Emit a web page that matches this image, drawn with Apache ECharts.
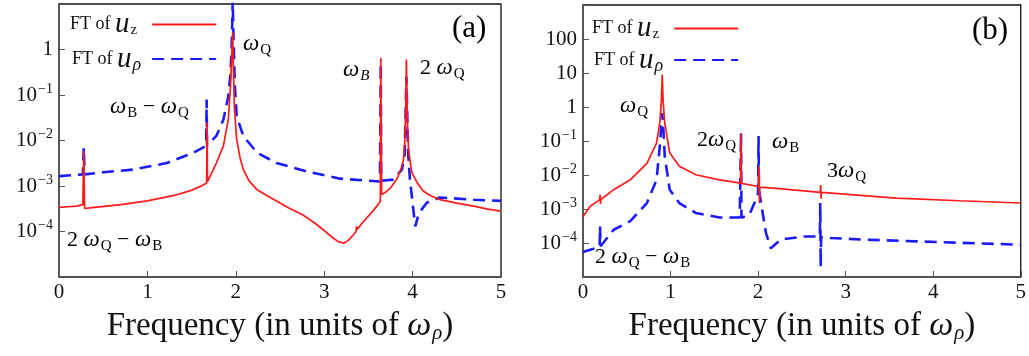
<!DOCTYPE html>
<html>
<head>
<meta charset="utf-8">
<script src="https://cdn.jsdelivr.net/npm/echarts@6/dist/echarts.min.js"></script>
<style>
  html, body { margin: 0; background: #fff; }
  #chart { width: 1029px; height: 356px; }
</style>
</head>
<body>
<div id="chart"></div>
<script>
// panel (a): [frequency, amplitude]
const uzA = [
  [0, 3.4e-4], [0.1, 3.5e-4], [0.2, 3.6e-4], [0.27, 3.9e-4], [0.28, 5.9e-3], [0.29, 3.2e-4],
  [0.4, 3.4e-4], [0.7, 3.9e-4], [1.0, 4.7e-4], [1.3, 6.2e-4], [1.48, 7.8e-4], [1.6, 9.8e-4],
  [1.67, 1.17e-3], [1.675, 2.5e-2], [1.68, 1.25e-3], [1.72, 1.8e-3], [1.78, 3.2e-3],
  [1.86, 7.6e-3], [1.915, 2.9e-2], [1.94, 0.155], [1.955, 0.8], [1.965, 2.4], [1.975, 0.25],
  [1.985, 0.05], [2.01, 1.05e-2], [2.05, 4e-3], [2.085, 2.3e-3], [2.15, 1.3e-3], [2.24, 8.3e-4],
  [2.35, 6.2e-4], [2.46, 4.7e-4], [2.6, 3.3e-4], [2.76, 2.3e-4], [2.9, 1.5e-4], [3.0, 1.05e-4],
  [3.1, 7.2e-5], [3.16, 6e-5], [3.22, 5.5e-5], [3.27, 6.3e-5], [3.33, 8.5e-5], [3.36, 1.0e-4],
  [3.365, 1.3e-4], [3.37, 1.1e-4], [3.45, 1.7e-4], [3.55, 2.8e-4], [3.61, 3.9e-4], [3.635, 4.6e-4],
  [3.64, 0.66], [3.65, 6.5e-4], [3.68, 7e-4], [3.75, 9e-4], [3.82, 1.4e-3], [3.87, 2.4e-3],
  [3.895, 3.6e-3], [3.91, 8e-3], [3.92, 3e-2], [3.93, 0.6], [3.94, 3e-2], [3.955, 6e-3],
  [3.99, 2.0e-3], [4.05, 1.2e-3], [4.12, 7.8e-4], [4.2, 6.2e-4], [4.31, 5e-4], [4.5, 4.2e-4],
  [4.69, 3.6e-4], [4.85, 3.1e-4], [5.0, 2.8e-4]
];
const urhoA = [
  [0, 1.65e-3], [0.27, 1.8e-3], [0.28, 7e-3], [0.29, 1.8e-3], [0.5, 2.0e-3], [0.84, 2.3e-3],
  [1.22, 3.2e-3], [1.52, 5.4e-3], [1.665, 7.6e-3], [1.67, 0.08], [1.675, 7.8e-3], [1.78, 1.26e-2],
  [1.86, 2.9e-2], [1.915, 9.3e-2], [1.94, 0.3], [1.955, 1.5], [1.965, 12], [1.975, 1.5],
  [1.99, 0.15], [2.01, 3.4e-2], [2.085, 1.26e-2], [2.24, 5.4e-3], [2.46, 3.2e-3], [2.8, 2.1e-3],
  [3.18, 1.45e-3], [3.63, 1.26e-3], [3.64, 0.5], [3.645, 1.3e-3], [3.78, 1.38e-3], [3.88, 2.3e-3],
  [3.91, 5e-3], [3.93, 0.25], [3.95, 5e-3], [3.97, 1.4e-3], [4.03, 1.3e-4], [4.07, 2.5e-4],
  [4.16, 4.3e-4], [4.31, 5.6e-4], [4.69, 5e-4], [5.0, 4.7e-4]
];

// panel (b)
const uzB = [
  [0, 6e-4], [0.083, 1.2e-3], [0.19, 1.85e-3], [0.195, 2.6e-3], [0.2, 1.4e-3], [0.205, 1.9e-3],
  [0.35, 3.7e-3], [0.54, 7.2e-3], [0.73, 2.2e-2], [0.84, 8.7e-2], [0.877, 0.34], [0.895, 1.5],
  [0.905, 9], [0.915, 1.5], [0.934, 0.34], [0.99, 4.5e-2], [1.10, 1.8e-2], [1.29, 1.02e-2],
  [1.56, 7.2e-3], [1.80, 5.8e-3], [1.805, 0.17], [1.81, 5.7e-3], [2.005, 4.6e-3], [2.01, 1.8e-2],
  [2.015, 1.5e-3], [2.02, 4.4e-3], [2.24, 4e-3], [2.71, 3.1e-3], [2.715, 5.1e-3], [2.72, 2e-3],
  [2.725, 3.1e-3], [3.58, 2.1e-3], [4.3, 1.75e-3], [5.0, 1.5e-3]
];
const urhoB = [
  [0, 5.4e-5], [0.1, 6.5e-5], [0.19, 7.9e-5], [0.195, 3.1e-4], [0.2, 8e-5], [0.35, 2.45e-4],
  [0.54, 4.4e-4], [0.73, 1.5e-3], [0.84, 7.2e-3], [0.877, 6.9e-2], [0.895, 0.3], [0.905, 0.66],
  [0.915, 0.3], [0.934, 3.5e-2], [0.99, 3.7e-3], [1.10, 1.5e-3], [1.29, 7.6e-4], [1.56, 5.6e-4],
  [1.79, 5.6e-4], [1.805, 0.17], [1.81, 5.5e-4], [1.85, 6e-4], [1.90, 6.8e-4], [1.975, 1.9e-3],
  [2.0, 3e-3], [2.005, 0.14], [2.01, 3.5e-3], [2.09, 1.95e-4], [2.145, 7e-5], [2.26, 1.26e-4],
  [2.52, 1.55e-4], [2.705, 1.55e-4], [2.71, 1.5e-3], [2.715, 2e-5], [2.72, 1.5e-4], [2.83, 1.4e-4],
  [3.2, 1.26e-4], [3.81, 1.12e-4], [5.0, 8.9e-5]
];

const xTicks = [0, 1, 2, 3, 4, 5];
const yLabelExpA = [-4, -3, -2, -1, 0];
const yLabelExpB = [-4, -3, -2, -1, 0, 1, 2];

const SERIF = "'Liberation Serif'";
const RED = '#ff1a1a';
const BLUE = '#1a1aff';

const chart = echarts.init(document.getElementById('chart'));

// rich text styles (fontFamily + fontSize + fontStyle)
const tx = (size, extra) => Object.assign({ fontFamily: SERIF, fontSize: size, fontWeight: 'normal', color: '#111' }, extra);
const richText = {
  w: tx(23, { fontStyle: 'italic', lineHeight: 28 }),
  n: tx(22, { lineHeight: 28 }),
  q: tx(15, { lineHeight: 15, padding: [12, 0, 0, 1] }),
  bi: tx(15, { fontStyle: 'italic', lineHeight: 15, padding: [12, 0, 0, 1] }),
  big: tx(31, { lineHeight: 34 })
};

const yFormatter = (shown) => (v) => {
  const e = Math.round(Math.log10(v));
  if (shown.indexOf(e) < 0) return '';
  if (e >= 0) return '{b|' + Math.pow(10, e) + '}';
  return '{b|10}{s|\u2212' + (-e) + '}';
};

const yAxisBase = (min, max, shown) => ({
  type: 'log', logBase: 10, min: min, max: max,
  axisLine: { show: true, lineStyle: { color: '#555', width: 1.5 } },
  axisTick: { inside: true, length: 6, lineStyle: { color: '#555' } },
  splitLine: { show: false },
  axisLabel: Object.assign(tx(21), {
    margin: 6, formatter: yFormatter(shown),
    rich: {
      b: tx(21, { lineHeight: 24 }),
      s: tx(14, { lineHeight: 14, padding: [0, 0, 12, 1] })
    }
  })
});

const xAxisBase = (gi) => ({
  type: 'value', gridIndex: gi, min: xTicks[0], max: xTicks[xTicks.length - 1], interval: 1,
  axisLine: { show: true, lineStyle: { color: '#555', width: 1.5 } },
  axisTick: { inside: true, length: 6, lineStyle: { color: '#555' } },
  splitLine: { show: false },
  axisLabel: Object.assign(tx(21), { margin: 5 }),
  name: '{f|Frequency (in units of }{w|\u03c9}{p|\u03c1}{f|)}',
  nameLocation: 'middle', nameGap: 30,
  nameTextStyle: Object.assign(tx(33), {
    rich: {
      f: tx(33, { lineHeight: 38 }),
      w: tx(34, { fontStyle: 'italic', lineHeight: 38 }),
      p: tx(21, { fontStyle: 'italic', lineHeight: 21, padding: [15, 0, 0, 1] })
    }
  })
});

const legendBase = (left, top, gap) => ({
  left: left, top: top, orient: 'vertical', align: 'right',
  itemWidth: 64, itemHeight: 14, itemGap: gap,
  data: ['uz', 'urho'],
  itemStyle: { opacity: 0 },
  formatter: (name) => name === 'uz' ? '{a|FT of }{u|u}{z|z}' : '{a|FT of }{u|u}{r|\u03c1}',
  textStyle: Object.assign(tx(18), {
    rich: {
      a: tx(18, { lineHeight: 30 }),
      u: tx(29, { fontStyle: 'italic', lineHeight: 30 }),
      z: tx(15, { lineHeight: 15, padding: [12, 10, 0, 1] }),
      r: tx(18, { fontStyle: 'italic', lineHeight: 18, padding: [12, 6, 0, 1] })
    }
  })
});

const lineSeries = (name, data, gi, color, dashed) => ({
  name: name, type: 'line', xAxisIndex: gi, yAxisIndex: gi,
  data: data, symbol: 'none', clip: true, animation: false,
  lineStyle: dashed ? { color: color, width: 2.6, type: [12, 7] } : { color: color, width: 1.7 },
  itemStyle: { color: color },
  z: dashed ? 2 : 3
});

// annotation texts: [left px, center y px, rich string]
const notes = [
  [243, 44, '{w|\u03c9}{q|Q}'],
  [110, 107, '{w|\u03c9}{q|B}{n| \u2212 }{w|\u03c9}{q|Q}'],
  [343, 70, '{w|\u03c9}{bi|B}'],
  [420, 68, '{n|2 }{w|\u03c9}{q|Q}'],
  [67, 240, '{n|2 }{w|\u03c9}{q|Q}{n| \u2212 }{w|\u03c9}{q|B}'],
  [452, 29, '{big|(a)}'],
  [620, 106, '{w|\u03c9}{q|Q}'],
  [697, 140, '{n|2}{w|\u03c9}{q|Q}'],
  [772, 142, '{w|\u03c9}{q|B}'],
  [827, 171, '{n|3}{w|\u03c9}{q|Q}'],
  [595, 257, '{n|2 }{w|\u03c9}{q|Q}{n| \u2212 }{w|\u03c9}{q|B}'],
  [972, 31, '{big|(b)}']
];

chart.setOption({
  backgroundColor: '#fff',
  animation: false,
  textStyle: { fontFamily: SERIF },
  grid: [
    { left: 59, top: 4, width: 442, height: 273, show: true, borderColor: '#111', borderWidth: 1.3, backgroundColor: 'transparent' },
    { left: 583, top: 5, width: 440, height: 272, show: true, borderColor: '#111', borderWidth: 1.3, backgroundColor: 'transparent' }
  ],
  xAxis: [xAxisBase(0), xAxisBase(1)],
  yAxis: [
    Object.assign(yAxisBase(1e-5, 10, yLabelExpA), { gridIndex: 0 }),
    Object.assign(yAxisBase(1e-5, 1e3, yLabelExpB), { gridIndex: 1 })
  ],
  legend: [legendBase(65, 5, 5), legendBase(587, 9, 2)],
  series: [
    lineSeries('urho', urhoA, 0, BLUE, true),
    lineSeries('uz', uzA, 0, RED, false),
    lineSeries('urho', urhoB, 1, BLUE, true),
    lineSeries('uz', uzB, 1, RED, false)
  ],
  graphic: notes.map((n) => ({
    type: 'text', x: n[0], y: n[1], silent: true, z: 10,
    style: { text: n[2], rich: richText, fontFamily: SERIF, fontSize: 22, align: 'left', verticalAlign: 'middle' }
  }))
});
</script>
</body>
</html>
